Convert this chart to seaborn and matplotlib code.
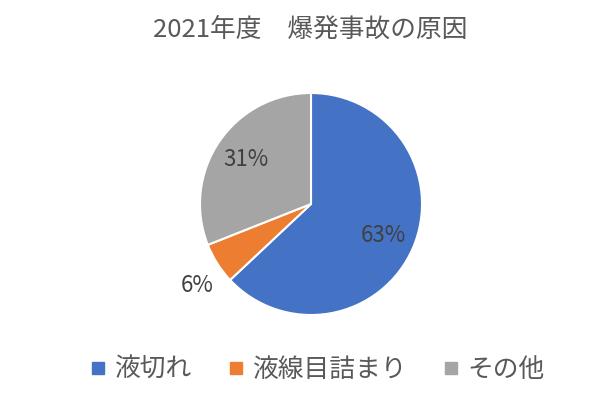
import numpy as np
import matplotlib
matplotlib.use('Agg')
import matplotlib.pyplot as plt
import seaborn as sns
from matplotlib.lines import Line2D

# データ
categories = ['液切れ', '液線目詰まり', 'その他']
values = [63, 6, 31]
colors = ['#4472C4', '#ED7D31', '#A5A5A5']
title = '2021年度　爆発事故の原因'

sns.set_theme(style='white')
plt.rcParams['font.family'] = ['Noto Sans CJK JP', 'DejaVu Sans']
text_color = '#595959'

W, H = 597, 396
fig = plt.figure(figsize=(W / 100, H / 100), dpi=100)

# 円の中心 (311, 204), 半径 111 px
cx, cy, r = 311, 204, 111
ax = fig.add_axes([(cx - r) / W, (H - cy - r) / H, 2 * r / W, 2 * r / H])

wedges, texts, autotexts = ax.pie(
    values, colors=colors, startangle=90, counterclock=False,
    autopct='%1.0f%%', pctdistance=0.71, radius=1,
    wedgeprops={'edgecolor': 'white', 'linewidth': 1.5},
    textprops={'fontsize': 16, 'color': '#404040'})
ax.set_xlim(-1, 1)
ax.set_ylim(-1, 1)
ax.set_aspect('equal')

# 小さいスライスのラベルは外側へ
w = wedges[1]
ang = np.deg2rad((w.theta1 + w.theta2) / 2 + 3)
autotexts[1].set_position((1.26 * np.cos(ang), 1.26 * np.sin(ang)))

fig.text(0.52, 1 - 30 / H, title, ha='center', va='center',
         fontsize=18.5, color=text_color)

handles = [Line2D([0], [0], marker='s', linestyle='', markersize=8,
                  markerfacecolor=c, markeredgecolor=c) for c in colors]
fig.legend(handles, categories, loc='center', bbox_to_anchor=(0.53, 1 - 370 / H),
           ncol=3, frameon=False, fontsize=18.5, labelcolor=text_color,
           handletextpad=0.25, columnspacing=1.3, handlelength=0.8)

fig.savefig('out.png', dpi=100)
